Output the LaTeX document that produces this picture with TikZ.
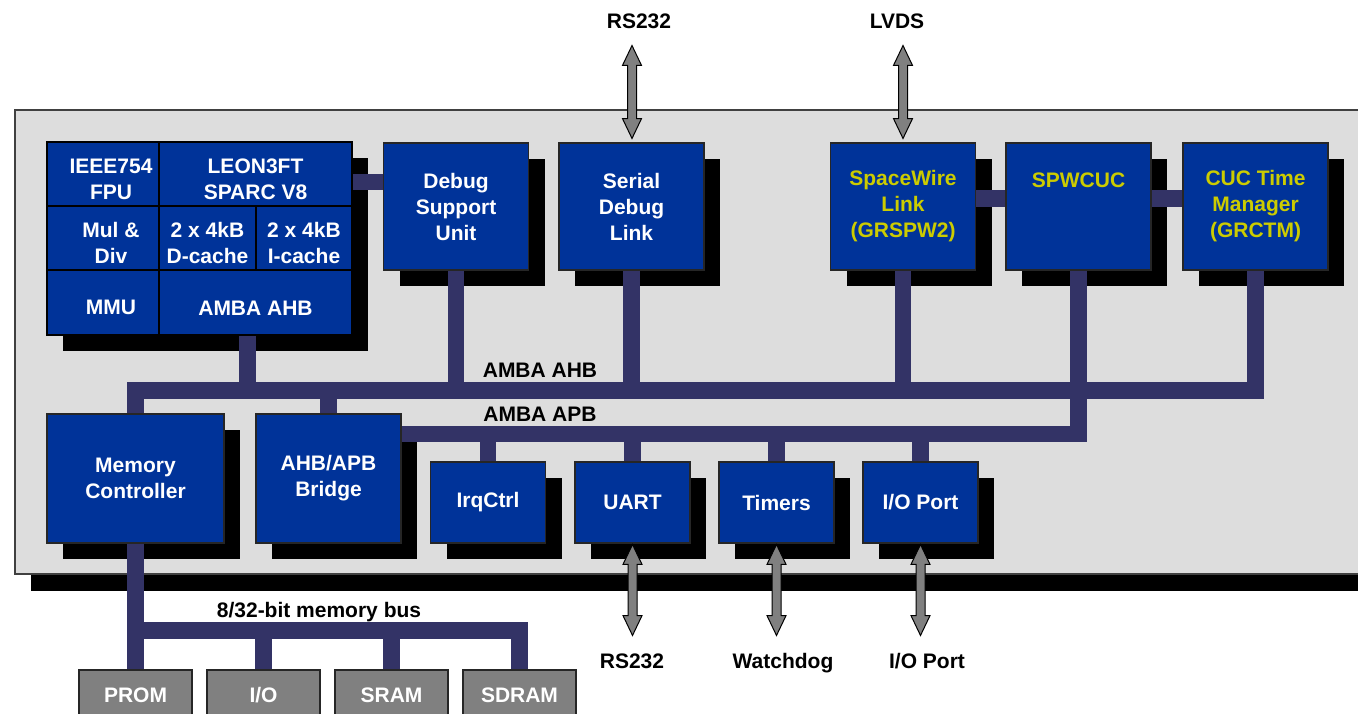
\documentclass[tikz,border=0pt]{standalone}
\usepackage{fontspec}
\setmainfont{Liberation Sans}
\usetikzlibrary{shapes.arrows}

\definecolor{boxblue}{RGB}{0,51,153}
\definecolor{busblue}{RGB}{51,51,102}
\definecolor{chipgray}{RGB}{221,221,221}
\definecolor{extgray}{RGB}{128,128,128}
\definecolor{txtyellow}{RGB}{204,204,0}
\newcommand{\boxfont}{\fontsize{21}{26}\selectfont\bfseries}
\newcommand{\indt}{\hspace*{16pt}}
\newcommand{\lowr}{\rule{0pt}{25pt}}

\begin{document}
\begin{tikzpicture}[
    x=1pt, y=-1pt,
    % Estilos de los bloques
    chip/.style={rectangle, draw=black!75, line width=1.5pt, fill=chipgray, inner sep=0pt,
        preaction={fill=black, draw=none, transform canvas={xshift=16pt, yshift=-17pt}}},
    shadowed/.style={preaction={fill=black, draw=none, transform canvas={xshift=16pt, yshift=-16pt}}},
    blk/.style={rectangle, draw=black!85, line width=1.5pt, fill=boxblue, text=white, align=center,
        inner sep=0pt, font=\boxfont},
    cell/.style={blk, draw=black, line width=2pt},
    topblk/.style={blk, shadowed, minimum width=145, minimum height=127},
    apbblk/.style={blk, shadowed, minimum width=115, minimum height=81},
    extbox/.style={rectangle, draw=black!85, line width=1.5pt, fill=extgray, text=white,
        font=\boxfont, inner sep=0pt, minimum width=113, minimum height=50},
    texto/.style={font=\boxfont, text=black, anchor=base, inner sep=0pt},
    bus/.style={draw=busblue, line width=16.5pt, line join=miter},
    dblarrow/.style={double arrow, draw=black, line width=1pt, fill=extgray, inner xsep=0pt,
        inner ysep=4pt, double arrow head extend=5pt, double arrow tip angle=51,
        double arrow head indent=0pt, rotate=90}
]
\useasboundingbox (0,0) rectangle (1358,714);
\clip (0,0) rectangle (1358,714);

% --- CHIP ---
\node[chip, minimum width=1370, minimum height=464] (chip) at (700,342) {};

% --- PROCESADOR LEON3FT ---
\node[blk, shadowed, minimum width=305, minimum height=193] (cpu) at (199.5,238.5) {};
\node[cell, minimum width=112, minimum height=64] (fpu) at (103,174) {\lowr\indt IEEE754\\\indt FPU};
\node[cell, minimum width=193, minimum height=64] (leon) at (255.5,174) {\lowr LEON3FT\\SPARC V8};
\node[cell, minimum width=112, minimum height=64] (muldiv) at (103,238) {\lowr\indt Mul \&\\\indt Div};
\node[cell, minimum width=97, minimum height=64] (dcache) at (207.5,238) {\lowr 2 x 4kB\\D-cache};
\node[cell, minimum width=96, minimum height=64] (icache) at (304,238) {\lowr 2 x 4kB\\I-cache};
\node[cell, minimum width=112, minimum height=65] (mmu) at (103,302.5) {\lowr\indt MMU};
\node[cell, minimum width=193, minimum height=65] (ahbcell) at (255.5,302.5) {\lowr AMBA AHB};

% --- BLOQUES SUPERIORES ---
\node[topblk] (dsu) at (456,206.5) {Debug\\Support\\Unit};
\node[topblk] (sdl) at (631.5,206.5) {Serial\\Debug\\Link};
\node[topblk, text=txtyellow] (spw) at (903,206.5) {SpaceWire\\Link\\(GRSPW2)};
\node[topblk, text=txtyellow] (spwcuc) at (1078.5,206.5) {SPWCUC\\\phantom{X}\\\phantom{X}};
\node[topblk, text=txtyellow] (ctm) at (1255.5,206.5) {CUC Time\\Manager\\(GRCTM)};

% --- BLOQUES INFERIORES ---
\node[blk, shadowed, minimum width=177, minimum height=129] (memctrl) at (135.5,478.5) {Memory\\Controller};
\node[blk, shadowed, minimum width=145, minimum height=129] (bridge) at (328.5,478.5) {AHB/APB\\Bridge};
\node[apbblk] (irq) at (488,502.5) {IrqCtrl};
\node[apbblk] (uart) at (632.5,502.5) {UART};
\node[apbblk] (timers) at (776.5,502.5) {Timers};
\node[apbblk] (ioport) at (920.5,502.5) {I/O Port};

% --- MEMORIA EXTERNA ---
\node[extbox] (prom) at (135.5,695) {PROM};
\node[extbox] (io) at (263.5,695) {I/O};
\node[extbox] (sram) at (391.5,695) {SRAM};
\node[extbox] (sdram) at (519.5,695) {SDRAM};

% --- BUSES ---
\coordinate (ahb) at (0,390.5);
\coordinate (apb) at (0,434);
\coordinate (mbus) at (0,630.5);
\coordinate (cputap) at ([xshift=-8pt]ahbcell.south);
\coordinate (dsutap) at ([yshift=-8pt]leon.east);
\coordinate (swtap) at ([yshift=8pt]spw.east);
\coordinate (cuctap) at ([yshift=8pt]spwcuc.east);

\draw[bus] (memctrl.north) |- (ctm.south |- ahb) -- (ctm.south);
\draw[bus] (cputap) -- (cputap |- ahb);
\draw[bus] (dsu.south) -- (dsu.south |- ahb);
\draw[bus] (sdl.south) -- (sdl.south |- ahb);
\draw[bus] (spw.south) -- (spw.south |- ahb);
\draw[bus] (bridge.north) -- (bridge.north |- ahb);
\draw[bus] (spwcuc.south) |- (bridge.east |- apb);
\draw[bus] (irq.north) -- (irq.north |- apb);
\draw[bus] (uart.north) -- (uart.north |- apb);
\draw[bus] (timers.north) -- (timers.north |- apb);
\draw[bus] (ioport.north) -- (ioport.north |- apb);
\draw[bus] (dsutap) -- (dsutap -| dsu.west);
\draw[bus] (swtap) -- (swtap -| spwcuc.west);
\draw[bus] (cuctap) -- (cuctap -| ctm.west);
\draw[bus] (memctrl.south) -- (prom.north);
\draw[bus] (memctrl.south |- mbus) -| (sdram.north);
\draw[bus] (io.north) -- (io.north |- mbus);
\draw[bus] (sram.north) -- (sram.north |- mbus);

\node[texto] (ahblabel) at (540,377) {AMBA AHB};
\node[texto] (apblabel) at (540,421) {AMBA APB};
\node[texto] (mbuslabel) at (319,617) {8/32-bit memory bus};

% --- SENALES EXTERNAS ---
\node[texto] (rstop) at (639,29) {RS232};
\node[texto] (lvds) at (897,29) {LVDS};
\node[texto] (rsbot) at (632,668) {RS232};
\node[texto] (wdog) at (783,668) {Watchdog};
\node[texto] (ioext) at (927,668) {I/O Port};

\node[dblarrow, minimum height=93] (rstoparrow) at (632,92) {};
\node[dblarrow, minimum height=93] (lvdsarrow) at (903,92) {};
\node[dblarrow, minimum height=91] (uartarrow) at (632.5,590) {};
\node[dblarrow, minimum height=91] (wdogarrow) at (776.5,590) {};
\node[dblarrow, minimum height=91] (ioarrow) at (920.5,590) {};

\end{tikzpicture}
\end{document}
